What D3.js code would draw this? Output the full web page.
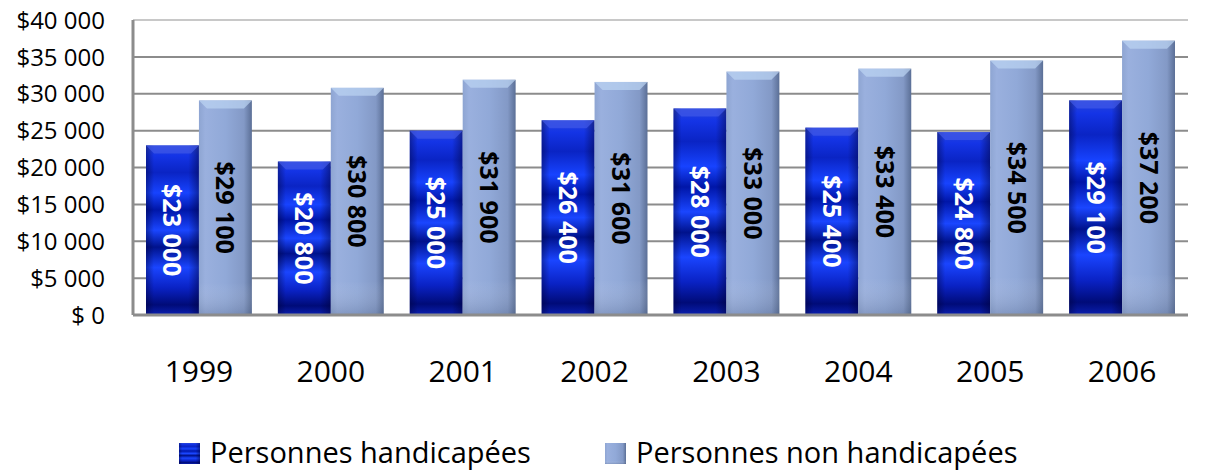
<!DOCTYPE html>
<html>
<head>
<meta charset="utf-8">
<script src="https://cdn.jsdelivr.net/npm/d3@7"></script>
<style>
  body { margin: 0; background: #fff; }
  svg { display: block; font-family: "Open Sans", "Noto Sans", sans-serif; }
</style>
</head>
<body>
<svg id="chart"></svg>
<script>
// data
const years = ["1999", "2000", "2001", "2002", "2003", "2004", "2005", "2006"];
const handicapees = [23000, 20800, 25000, 26400, 28000, 25400, 24800, 29100];
const nonHandicapees = [29100, 30800, 31900, 31600, 33000, 33400, 34500, 37200];
const seriesNames = ["Personnes handicapées", "Personnes non handicapées"];
const yTicks = [0, 5000, 10000, 15000, 20000, 25000, 30000, 35000, 40000];
const yTickLabels = ["$ 0", "$5 000", "$10 000", "$15 000", "$20 000", "$25 000", "$30 000", "$35 000", "$40 000"];

const width = 1205, height = 470;
const margin = { top: 20, right: 17, bottom: 155, left: 133 };
const innerW = width - margin.left - margin.right;
const innerH = height - margin.top - margin.bottom;

const svg = d3.select("#chart").attr("width", width).attr("height", height);
const defs = svg.append("defs");

// blue banded gradient
const gBlue = defs.append("linearGradient").attr("id", "blueV").attr("x1", 0).attr("y1", 0).attr("x2", 0).attr("y2", 1);
[[0, "#2a46d8"], [0.06, "#1434e6"], [0.16, "#0a24c4"], [0.28, "#1743ff"], [0.38, "#0016a8"],
 [0.5, "#1a46ff"], [0.6, "#00128c"], [0.72, "#1a45ff"], [0.84, "#0a22c4"], [0.94, "#000b78"], [1, "#0a1fb0"]]
  .forEach(s => gBlue.append("stop").attr("offset", s[0]).attr("stop-color", s[1]));

const gEdge = defs.append("linearGradient").attr("id", "edgeH");
[[0, "#000030", 0.4], [0.15, "#000030", 0], [0.8, "#000030", 0], [1, "#000030", 0.45]]
  .forEach(s => gEdge.append("stop").attr("offset", s[0]).attr("stop-color", s[1]).attr("stop-opacity", s[2]));

const gLight = defs.append("linearGradient").attr("id", "lightH");
[[0, "#8ea5d2"], [0.12, "#9ab0de"], [0.5, "#91a9d8"], [0.85, "#8399c6"], [1, "#5b6f96"]]
  .forEach(s => gLight.append("stop").attr("offset", s[0]).attr("stop-color", s[1]));

const gLightV = defs.append("linearGradient").attr("id", "lightV").attr("x1", 0).attr("y1", 0).attr("x2", 0).attr("y2", 1);
[[0, "#ffffff", 0], [0.85, "#ffffff", 0], [1, "#405070", 0.25]]
  .forEach(s => gLightV.append("stop").attr("offset", s[0]).attr("stop-color", s[1]).attr("stop-opacity", s[2]));

const x = d3.scaleBand().domain(years).range([0, innerW]).paddingInner(0).paddingOuter(0);
const xs = d3.scaleBand().domain([0, 1]).range([13, x.bandwidth() - 13]);
const y = d3.scaleLinear().domain([0, 40000]).range([innerH, 0]);

const g = svg.append("g").attr("transform", `translate(${margin.left},${margin.top})`);

// gridlines
g.append("g").selectAll("line").data(yTicks.slice(1)).join("line")
  .attr("x1", 0).attr("x2", innerW)
  .attr("y1", d => y(d)).attr("y2", d => y(d))
  .attr("stroke", d => d === 40000 ? "#c8c8c8" : "#8c8c8c").attr("stroke-width", 2);

// y axis labels
g.append("g").selectAll("text").data(yTicks).join("text")
  .attr("x", -28).attr("y", d => y(d)).attr("dy", "0.36em")
  .attr("text-anchor", "end").attr("font-size", 24).attr("fill", "#000")
  .text((d, i) => yTickLabels[i]);

const groups = g.append("g").selectAll("g").data(years).join("g")
  .attr("transform", d => `translate(${x(d)},0)`);

const cap = 8;
function drawBar(sel, vals, idx) {
  const bx = xs(idx), bw = xs.bandwidth();
  const b = sel.append("g");
  b.append("rect").attr("x", bx).attr("width", bw)
    .attr("y", (d, i) => y(vals[years.indexOf(d)]))
    .attr("height", d => innerH - y(vals[years.indexOf(d)]))
    .attr("fill", idx === 0 ? "url(#blueV)" : "url(#lightH)");
  b.append("rect").attr("x", bx).attr("width", bw)
    .attr("y", d => y(vals[years.indexOf(d)]))
    .attr("height", d => innerH - y(vals[years.indexOf(d)]))
    .attr("fill", idx === 0 ? "url(#edgeH)" : "url(#lightV)");
  // bevel top cap
  b.append("path")
    .attr("d", d => {
      const t = y(vals[years.indexOf(d)]);
      return `M${bx},${t}L${bx + bw},${t}L${bx + bw - cap},${t + cap}L${bx + cap},${t + cap}Z`;
    })
    .attr("fill", idx === 0 ? "#4058e8" : "#bcd4f2").attr("opacity", 0.7);
  // value label
  b.append("text")
    .attr("transform", d => {
      const v = vals[years.indexOf(d)];
      return `translate(${bx + bw / 2},${y(v / 2)}) rotate(90)`;
    })
    .attr("text-anchor", "middle").attr("dy", "0.36em")
    .attr("font-size", 25).attr("font-weight", "bold")
    .attr("fill", idx === 0 ? "#fff" : "#000")
    .text(d => "$" + d3.format(",")(vals[years.indexOf(d)]).replace(",", " "));
}
drawBar(groups, handicapees, 0);
drawBar(groups, nonHandicapees, 1);

// axes lines
g.append("line").attr("x1", 0).attr("x2", 0).attr("y1", 0).attr("y2", innerH)
  .attr("stroke", "#8c8c8c").attr("stroke-width", 3);
g.append("line").attr("x1", 0).attr("x2", innerW).attr("y1", innerH).attr("y2", innerH)
  .attr("stroke", "#8c8c8c").attr("stroke-width", 3);

// x labels
g.append("g").selectAll("text").data(years).join("text")
  .attr("x", d => x(d) + x.bandwidth() / 2).attr("y", innerH + 67)
  .attr("text-anchor", "middle").attr("font-size", 30).attr("fill", "#000")
  .text(d => d);

// legend
const legend = svg.append("g").attr("transform", "translate(179,443)");
const legX = [0, 426];
seriesNames.forEach((n, i) => {
  const lg = legend.append("g").attr("transform", `translate(${legX[i]},0)`);
  lg.append("rect").attr("width", 21).attr("height", 21).attr("fill", i === 0 ? "url(#blueV)" : "url(#lightH)");
  lg.append("rect").attr("width", 21).attr("height", 21).attr("fill", i === 0 ? "url(#edgeH)" : "url(#lightV)");
  lg.append("text").attr("x", 31).attr("y", 20)
    .attr("font-size", 29).attr("fill", "#000").text(n);
});
</script>
</body>
</html>
